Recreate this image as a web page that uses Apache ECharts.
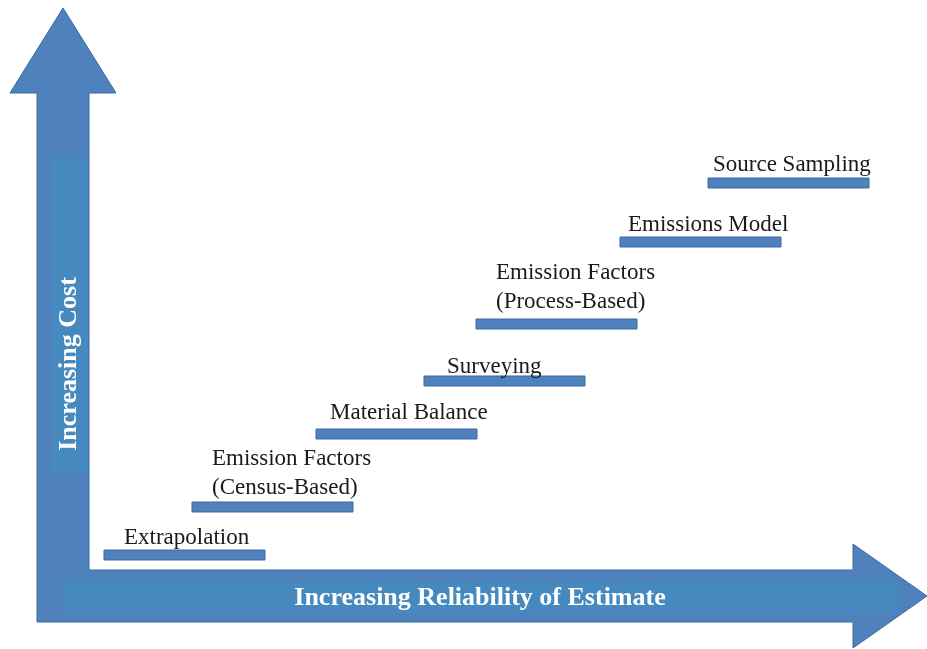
<!DOCTYPE html>
<html>
<head>
<meta charset="utf-8">
<style>html,body{margin:0;padding:0;background:#fff;}#c{width:927px;height:649px;}</style>
<script src="https://cdn.jsdelivr.net/npm/echarts@6/dist/echarts.min.js"></script>
</head>
<body>
<div id="c"></div>
<script>
// Method categories (ordered by increasing reliability / cost)
var methods = ['Extrapolation', 'Emission Factors\n(Census-Based)', 'Material Balance', 'Surveying',
  'Emission Factors\n(Process-Based)', 'Emissions Model', 'Source Sampling'];
// Step start / end on the reliability axis
var stepStart = [104, 192, 316, 424, 476, 620, 708];
var stepEnd   = [265, 353, 477, 585, 637, 781, 869];
// Step level on the cost axis (top of bar)
var stepLevel = [550, 502, 429, 376, 319, 237, 178];
// Label anchor (left, centre of last line)
var labelX = [124, 212, 330, 447, 496, 628, 713];
var labelY = [538, 488, 413, 367, 302, 225, 165];

var xTitle = 'Increasing Reliability of Estimate';
var yTitle = 'Increasing Cost';

var chart = echarts.init(document.getElementById('c'), null, {renderer: 'canvas'});
var data = methods.map(function (m, i) {
  return [stepStart[i], stepEnd[i], stepLevel[i], labelX[i], labelY[i], m];
});
var blue = '#4F81BD', edge = '#3B6A9F', boxBlue = '#4589BE';
var serif = '"Liberation Serif", "DejaVu Serif", serif';

chart.setOption({
  animation: false,
  grid: {left: 0, right: 0, top: 0, bottom: 0},
  xAxis: {type: 'value', min: 0, max: 927, show: false},
  yAxis: {type: 'value', min: 0, max: 649, inverse: true, show: false},
  graphic: [
    {type: 'polygon', z: 1, shape: {points: [[63,8],[116,93],[89,93],[89,570],[853,570],[853,544],[927,596],[853,648],[853,622],[37,622],[37,93],[10,93]]},
      style: {fill: blue, stroke: edge, lineWidth: 1}},
    {type: 'rect', z: 2, shape: {x: 63, y: 581, width: 835, height: 32}, style: {fill: boxBlue}},
    {type: 'rect', z: 2, shape: {x: 52, y: 157, width: 36, height: 315}, style: {fill: boxBlue}},
    {type: 'text', z: 3, x: 480, y: 598, style: {text: xTitle, fill: '#fff', font: 'bold 26px ' + serif, textAlign: 'center', textVerticalAlign: 'middle'}},
    {type: 'text', z: 3, x: 69, y: 364, rotation: Math.PI / 2, style: {text: yTitle, fill: '#fff', font: 'bold 26px ' + serif, textAlign: 'center', textVerticalAlign: 'middle'}}
  ],
  series: [{
    type: 'custom',
    z: 5,
    data: data,
    renderItem: function (params, api) {
      var p0 = api.coord([api.value(0), api.value(2)]);
      var p1 = api.coord([api.value(1), api.value(2)]);
      var lp = api.coord([api.value(3), api.value(4)]);
      var txt = methods[params.dataIndex];
      return {
        type: 'group',
        children: [
          {type: 'rect', shape: {x: p0[0], y: p0[1], width: p1[0] - p0[0], height: 10},
            style: {fill: blue, stroke: edge, lineWidth: 1}},
          {type: 'text', x: lp[0], y: lp[1] + 14,
            style: {text: txt, fill: '#1a1a1a', font: '23px ' + serif, lineHeight: 29, textAlign: 'left', textVerticalAlign: 'bottom'}}
        ]
      };
    }
  }]
});
</script>
</body>
</html>
